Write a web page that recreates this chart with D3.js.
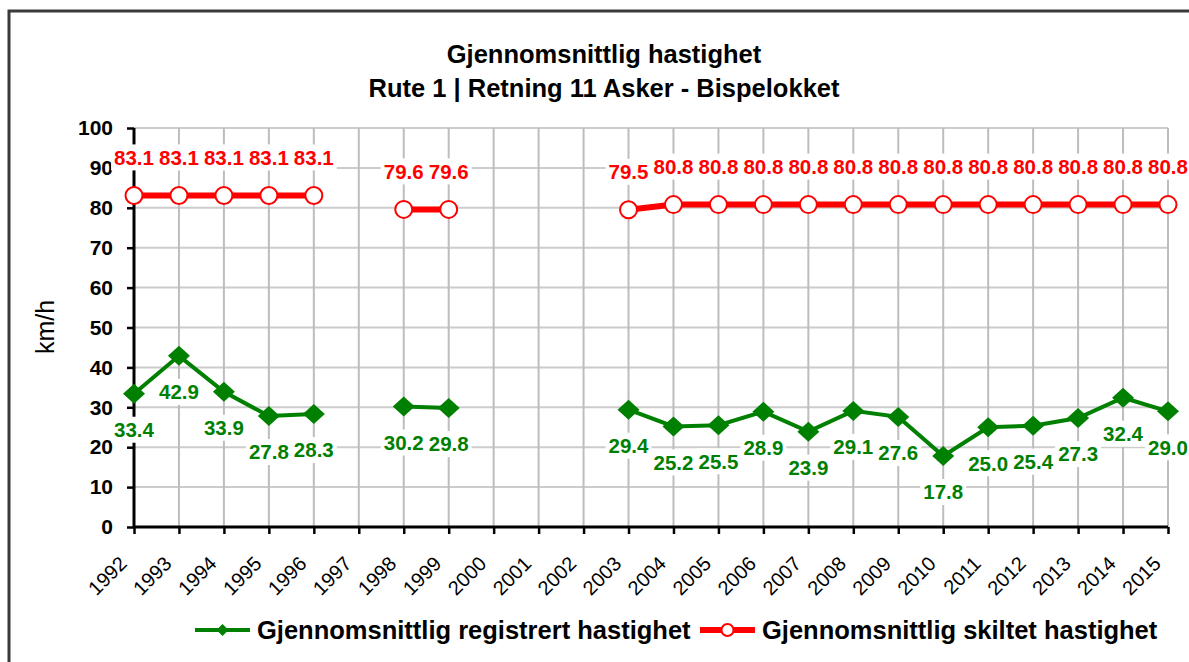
<!DOCTYPE html>
<html>
<head>
<meta charset="utf-8">
<script src="https://cdn.jsdelivr.net/npm/d3@7"></script>
<style>
  body { margin: 0; background: #fff; }
  svg { display: block; font-family: "Liberation Sans", Arial, sans-serif; }
</style>
</head>
<body>
<div id="chart"></div>
<script>
// chart data
const years = ["1992", "1993", "1994", "1995", "1996", "1997", "1998", "1999", "2000", "2001",
  "2002", "2003", "2004", "2005", "2006", "2007", "2008", "2009", "2010", "2011", "2012",
  "2013", "2014", "2015"];
const registrert = [33.4, 42.9, 33.9, 27.8, 28.3, null, 30.2, 29.8, null, null,
  null, 29.4, 25.2, 25.5, 28.9, 23.9, 29.1, 27.6, 17.8, 25.0, 25.4,
  27.3, 32.4, 29.0];
const skiltet = [83.1, 83.1, 83.1, 83.1, 83.1, null, 79.6, 79.6, null, null,
  null, 79.5, 80.8, 80.8, 80.8, 80.8, 80.8, 80.8, 80.8, 80.8, 80.8,
  80.8, 80.8, 80.8];
const yTicks = [0, 10, 20, 30, 40, 50, 60, 70, 80, 90, 100];
const titleLines = ["Gjennomsnittlig hastighet", "Rute 1 | Retning 11 Asker - Bispelokket"];
const seriesNames = ["Gjennomsnittlig registrert hastighet", "Gjennomsnittlig skiltet hastighet"];

const width = 1189;
const height = 662;
const plot = { left: 134, right: 1168, top: 128, bottom: 527 };
const colors = { green: "#008000", red: "#ff0000", grid: "#bdbdbd" };

const svg = d3.select("#chart").append("svg")
  .attr("width", width)
  .attr("height", height);

// outer frame (runs past the right and bottom edges)
svg.append("rect")
  .attr("x", 9).attr("y", 11)
  .attr("width", 1300).attr("height", 800)
  .attr("fill", "none")
  .attr("stroke", "#3a3a3a")
  .attr("stroke-width", 3);

const x = d3.scalePoint().domain(years).range([plot.left, plot.right]);
const y = d3.scaleLinear().domain([0, 100]).range([plot.bottom, plot.top]);

// gridlines
svg.append("g").selectAll("line").data(yTicks.slice(1)).join("line")
  .attr("x1", plot.left).attr("x2", plot.right)
  .attr("y1", d => y(d)).attr("y2", d => y(d))
  .attr("stroke", "#cccccc").attr("stroke-width", 2);
svg.append("g").selectAll("line").data(years.slice(1)).join("line")
  .attr("x1", d => x(d)).attr("x2", d => x(d))
  .attr("y1", plot.top).attr("y2", plot.bottom)
  .attr("stroke", colors.grid).attr("stroke-width", 2);

// axes
const yAxis = svg.append("g")
  .attr("transform", `translate(${plot.left},0)`)
  .call(d3.axisLeft(y).tickValues(yTicks).tickSize(7).tickPadding(14));
yAxis.select(".domain").attr("stroke", "#000").attr("stroke-width", 3)
  .attr("d", `M0,${plot.top}V${plot.bottom}`);
yAxis.selectAll(".tick line").attr("stroke", "#000").attr("stroke-width", 2.5);
yAxis.selectAll(".tick text")
  .attr("fill", "#000")
  .style("font-size", "21px")
  .style("font-weight", "bold");

const xAxis = svg.append("g")
  .attr("transform", `translate(0,${plot.bottom})`)
  .call(d3.axisBottom(x).tickSize(7).tickFormat(""));
xAxis.select(".domain").attr("stroke", "#000").attr("stroke-width", 3)
  .attr("d", `M${plot.left},0H${plot.right}`);
xAxis.selectAll(".tick line").attr("stroke", "#000").attr("stroke-width", 2.5);

svg.append("g").selectAll("text").data(years).join("text")
  .attr("transform", d => `translate(${x(d) - 6},${plot.bottom + 38}) rotate(-45)`)
  .attr("text-anchor", "end")
  .style("font-size", "20px")
  .attr("fill", "#000")
  .text(d => d);

// y axis title
svg.append("text")
  .attr("transform", "translate(54,327) rotate(-90)")
  .attr("text-anchor", "middle")
  .style("font-size", "25px")
  .text("km/h");

// title
svg.append("g").selectAll("text").data(titleLines).join("text")
  .attr("x", 604)
  .attr("y", (d, i) => 63 + i * 34)
  .attr("text-anchor", "middle")
  .style("font-size", "25.5px")
  .style("font-weight", "bold")
  .text(d => d);

// lines and markers
const pts = vals => years.map((yr, i) => ({ year: yr, v: vals[i] }));
const greenPts = pts(registrert);
const redPts = pts(skiltet);
const line = d3.line()
  .defined(d => d.v != null)
  .x(d => x(d.year))
  .y(d => y(d.v));

svg.append("path").datum(redPts)
  .attr("d", line).attr("fill", "none")
  .attr("stroke", colors.red).attr("stroke-width", 6);
svg.append("g").selectAll("circle").data(redPts.filter(d => d.v != null)).join("circle")
  .attr("cx", d => x(d.year)).attr("cy", d => y(d.v)).attr("r", 8.5)
  .attr("fill", "#fff").attr("stroke", colors.red).attr("stroke-width", 2);

svg.append("path").datum(greenPts)
  .attr("d", line).attr("fill", "none")
  .attr("stroke", colors.green).attr("stroke-width", 4);
svg.append("g").selectAll("path").data(greenPts.filter(d => d.v != null)).join("path")
  .attr("d", d => {
    const cx = x(d.year), cy = y(d.v);
    return `M${cx - 11},${cy}L${cx},${cy - 10}L${cx + 11},${cy}L${cx},${cy + 10}Z`;
  })
  .attr("fill", colors.green);

// data labels with white boxes (drawn last so they cover lines and axis)
function addLabels(data, offset, color) {
  const g = svg.append("g");
  data.filter(d => d.v != null).forEach(d => {
    const lg = g.append("g")
      .attr("transform", `translate(${x(d.year)},${y(d.v) + offset})`);
    const rect = lg.append("rect").attr("fill", "#fff");
    const t = lg.append("text")
      .attr("text-anchor", "middle")
      .attr("dy", "0.36em")
      .attr("fill", color)
      .style("font-size", "20.5px")
      .style("font-weight", "bold")
      .text(d.v.toFixed(1));
    const w = t.node().getComputedTextLength();
    rect.attr("x", -w / 2 - 3).attr("y", -13).attr("width", w + 6).attr("height", 26);
  });
}
addLabels(redPts, -38, colors.red);
addLabels(greenPts, 36, colors.green);

// legend
const legend = [
  { name: seriesNames[0], color: colors.green, x0: 195, sw: 4, marker: "diamond" },
  { name: seriesNames[1], color: colors.red, x0: 700, sw: 6, marker: "circle" }
];
const ly = 630;
legend.forEach(l => {
  svg.append("line")
    .attr("x1", l.x0).attr("x2", l.x0 + 55)
    .attr("y1", ly).attr("y2", ly)
    .attr("stroke", l.color).attr("stroke-width", l.sw);
  const cx = l.x0 + 27.5;
  if (l.marker === "diamond") {
    svg.append("path")
      .attr("d", `M${cx - 6},${ly}L${cx},${ly - 6}L${cx + 6},${ly}L${cx},${ly + 6}Z`)
      .attr("fill", l.color);
  } else {
    svg.append("circle")
      .attr("cx", cx).attr("cy", ly).attr("r", 6)
      .attr("fill", "#fff").attr("stroke", l.color).attr("stroke-width", 2);
  }
  svg.append("text")
    .attr("x", l.x0 + 62).attr("y", ly + 9)
    .style("font-size", "25.5px")
    .style("font-weight", "bold")
    .text(l.name);
});
</script>
</body>
</html>
